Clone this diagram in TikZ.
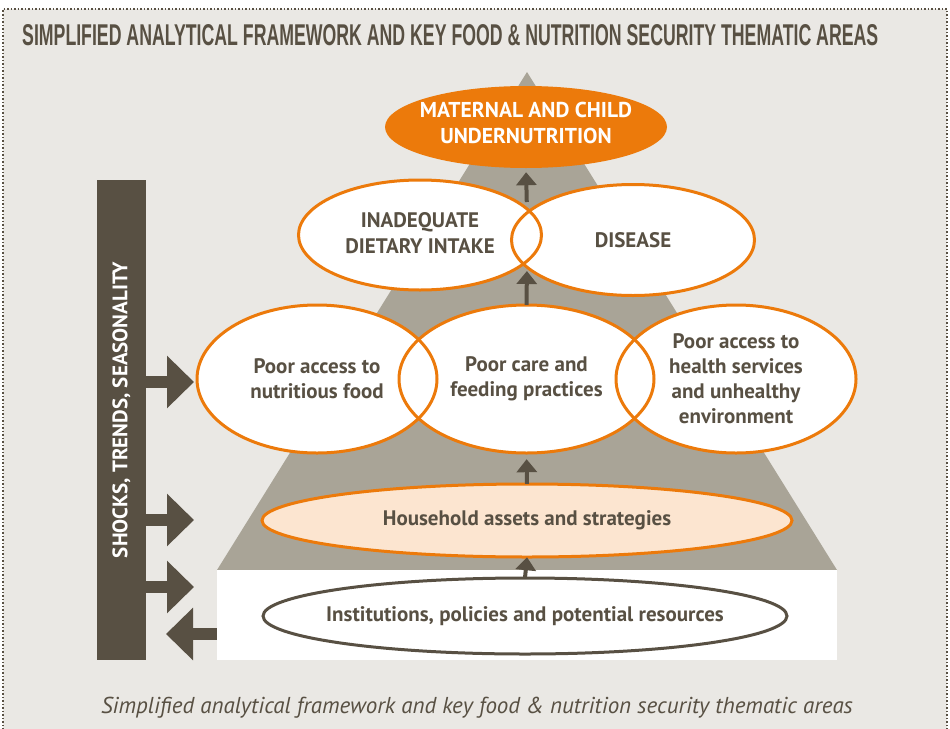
\documentclass[tikz,border=0pt]{standalone}
\usepackage{fontspec}
\setmainfont{PT Sans}
\newfontfamily\titlefont{Liberation Sans}
\usetikzlibrary{arrows.meta,shapes.geometric,positioning}

\definecolor{fnbg}{HTML}{EAE8E4}
\definecolor{fnbrown}{HTML}{585043}
\definecolor{fnpyr}{HTML}{A9A497}
\definecolor{fnorange}{HTML}{EC7A0B}
\definecolor{fnpeach}{HTML}{FCE5D0}

\tikzset{
	ellbase/.style={ellipse, inner sep=0pt, fill=white},
	ring/.style={draw=fnorange, line width=3pt},
	txt/.style={align=center, text=fnbrown, font=\fontsize{21}{25}\selectfont\bfseries},
	uparrow/.style={draw=fnbrown, line width=4pt, -{Triangle[width=20pt,length=13pt]}},
	blockarrow/.style={draw=fnbrown, line width=12pt, -{Triangle[width=51pt,length=27pt]}}
}

\begin{document}
\begin{tikzpicture}[x=1pt, y=-1pt]
	\useasboundingbox (0,0) rectangle (950,728);
	
	% frame and title
	\fill[fnbg] (3,9) rectangle (947,740);
	\draw[fnbrown, dotted, line width=1.5pt] (3,740) -- (3,9) -- (947,9) -- (947,740);
	\node[anchor=west, inner sep=0pt, text=fnbrown] (title) at (22,35)
		{\resizebox{856pt}{21pt}{\titlefont\bfseries SIMPLIFIED ANALYTICAL FRAMEWORK AND KEY FOOD \& NUTRITION SECURITY THEMATIC AREAS}};
	
	% pyramid and base
	\fill[fnpyr] (527,72) -- (837,570) -- (217,570) -- cycle;
	\node[fill=white, inner sep=0pt, minimum width=620pt, minimum height=90pt] (base) at (527,615) {};
	
	% shocks bar
	\node[fill=fnbrown, inner sep=0pt, minimum width=49pt, minimum height=480pt] (bar) at (121.5,420) {};
	\node[rotate=90, text=white, font=\fontsize{21}{24}\selectfont\bfseries] (shocks) at (121.5,410) {SHOCKS, TRENDS, SEASONALITY};
	
	\coordinate (t1) at (194,382);
	\coordinate (t2) at (194,520);
	\coordinate (t3) at (194,587);
	\coordinate (t4) at (166,634);
	\draw[blockarrow] (bar.east |- t1) -- (t1);
	\draw[blockarrow] (bar.east |- t2) -- (t2);
	\draw[blockarrow] (bar.east |- t3) -- (t3);
	\draw[blockarrow] (base.west |- t4) -- (t4);
	
	% ellipse fills
	\node[ellbase, fill=fnorange, minimum width=282pt, minimum height=82pt] (top) at (526,127) {};
	\node[ellbase, minimum width=243pt, minimum height=110pt] (intake) at (420,235) {};
	\node[ellbase, minimum width=243pt, minimum height=111pt] (disease) at (633,240) {};
	\node[ellbase, minimum width=240pt, minimum height=148pt] (food) at (317,379) {};
	\node[ellbase, minimum width=255pt, minimum height=148pt] (care) at (526.5,379) {};
	\node[ellbase, minimum width=240pt, minimum height=148pt] (health) at (736,379) {};
	\node[ellbase, fill=fnpeach, minimum width=530pt, minimum height=73pt] (hh) at (527,520.5) {};
	\node[ellbase, minimum width=524pt, minimum height=76pt] (inst) at (525,616) {};
	
	% ellipse outlines
	\draw[ring] (intake.center) ellipse [x radius=121.5, y radius=55];
	\draw[ring] (disease.center) ellipse [x radius=121.5, y radius=55.5];
	\draw[ring] (food.center) ellipse [x radius=120, y radius=74];
	\draw[ring] (care.center) ellipse [x radius=127.5, y radius=74];
	\draw[ring] (health.center) ellipse [x radius=120, y radius=74];
	\draw[ring] (hh.center) ellipse [x radius=265, y radius=36.5];
	\draw[ring, draw=fnbrown] (inst.center) ellipse [x radius=262, y radius=38];
	
	% labels
	\node[txt, text=white, font=\fontsize{21.5}{26}\selectfont\bfseries] at (526,123) {MATERNAL AND CHILD\\UNDERNUTRITION};
	\node[txt, font=\fontsize{21}{26}\selectfont\bfseries] at (420,233) {INADEQUATE\\DIETARY INTAKE};
	\node[txt] at (disease) {DISEASE};
	\node[txt] at (food) {Poor access to\\nutritious food};
	\node[txt] at (care) {Poor care and\\feeding practices};
	\node[txt] at (health) {Poor access to\\health services\\and unhealthy\\environment};
	\node[txt] at (hh) {Household assets and strategies};
	\node[txt] at (inst) {Institutions, policies and potential resources};
	
	% links
	\coordinate (lensT) at (527,212);
	\coordinate (lensB) at (527,265);
	\draw[uparrow] (inst.north) -- (hh.south);
	\draw[uparrow, shorten >=6pt] (hh.north) -- (care.south);
	\draw[uparrow, shorten >=6pt] (care.north) -- (lensB);
	\draw[uparrow, shorten <=10pt, shorten >=4pt] (lensT) -- (top.south);
	
	\node[text=fnbrown, font=\fontsize{23}{26}\selectfont\itshape] (caption) at (477,708)
		{Simplified analytical framework and key food \& nutrition security thematic areas};
\end{tikzpicture}
\end{document}
